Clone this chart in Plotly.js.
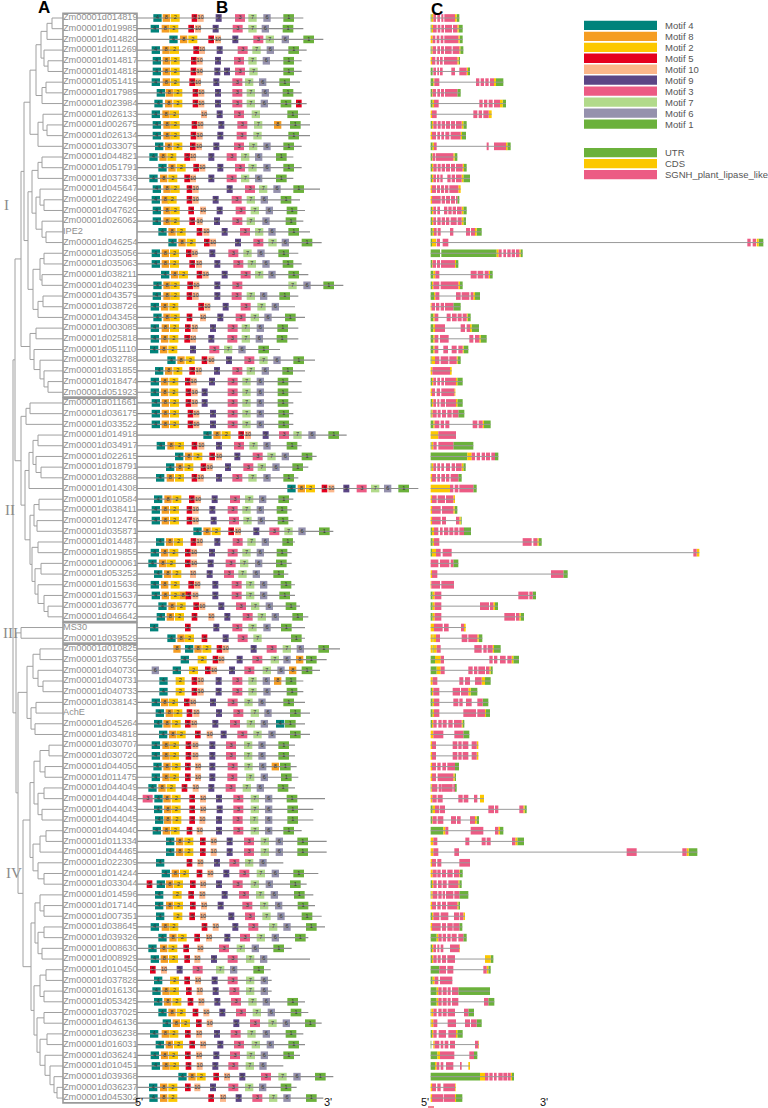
<!DOCTYPE html>
<html><head><meta charset="utf-8">
<script src="https://cdn.plot.ly/plotly-3.0.1.min.js"></script>
<style>html,body{margin:0;padding:0;background:#fff}#chart{width:768px;height:1108px}</style>
</head><body><div id="chart"></div>
<script>
// ---------------- DATA ----------------
const geneNames = ["Zm00001d014819","Zm00001d019985","Zm00001d014820","Zm00001d011269","Zm00001d014817","Zm00001d014818","Zm00001d051419","Zm00001d017989","Zm00001d023984","Zm00001d026133","Zm00001d002675","Zm00001d026134","Zm00001d033079","Zm00001d044821","Zm00001d051791","Zm00001d037336","Zm00001d045647","Zm00001d022496","Zm00001d047620","Zm00001d026062","IPE2","Zm00001d046254","Zm00001d035056","Zm00001d035063","Zm00001d038211","Zm00001d040239","Zm00001d043579","Zm00001d038726","Zm00001d043458","Zm00001d003085","Zm00001d025818","Zm00001d051110","Zm00001d032788","Zm00001d031855","Zm00001d018474","Zm00001d051923","Zm00001d011661","Zm00001d036175","Zm00001d033522","Zm00001d014918","Zm00001d034917","Zm00001d022615","Zm00001d018791","Zm00001d032888","Zm00001d014308","Zm00001d010584","Zm00001d038411","Zm00001d012476","Zm00001d035871","Zm00001d014487","Zm00001d019855","Zm00001d000061","Zm00001d053252","Zm00001d015636","Zm00001d015637","Zm00001d036770","Zm00001d046642","MS30","Zm00001d039529","Zm00001d010825","Zm00001d037556","Zm00001d040730","Zm00001d040731","Zm00001d040733","Zm00001d038143","AchE","Zm00001d045264","Zm00001d034818","Zm00001d030707","Zm00001d030720","Zm00001d044050","Zm00001d011475","Zm00001d044049","Zm00001d044048","Zm00001d044043","Zm00001d044045","Zm00001d044040","Zm00001d011334","Zm00001d044465","Zm00001d022309","Zm00001d014244","Zm00001d033044","Zm00001d014596","Zm00001d017140","Zm00001d007351","Zm00001d038645","Zm00001d039326","Zm00001d008630","Zm00001d008929","Zm00001d010450","Zm00001d037828","Zm00001d016130","Zm00001d053425","Zm00001d037025","Zm00001d046136","Zm00001d036238","Zm00001d016031","Zm00001d036241","Zm00001d010451","Zm00001d039368","Zm00001d036237","Zm00001d045302"];

const groupLabels = ["I","II","III","IV"];
const groupStart = [1,37,58,60];
const groupEnd = [36,57,59,102];

const motifOrder = [4,8,2,5,10,9,3,7,6,1];
const motifLength = [25,22,27,17,18,18,30,25,22,32];   // same order as motifOrder
const motifColors = ["#00837b","#f59d22","#fcc800","#e5001e","#fbb68a","#5b4585","#ec5b84","#b2da8b","#9591ad","#6bb13b"];

const structLabels = ["UTR","CDS","SGNH_plant_lipase_like"];
const structCodes = ["U","C","S"];
const structColors = ["#6bb13b","#fcc800","#ec5b84"];

const proteinStart = 411;
const proteinEnd = [910,910,970,920,905,905,900,905,920,930,930,930,905,880,905,880,960,900,915,910,930,965,895,905,925,1030,895,885,915,895,895,840,945,915,905,905,880,880,880,1040,905,950,925,895,1255,880,875,880,1000,885,875,875,865,885,885,900,925,915,915,1020,980,960,910,910,915,930,915,930,885,885,890,895,885,975,940,940,905,980,980,850,955,920,940,945,965,975,925,875,930,812,815,815,915,925,965,910,915,900,850,1000,890,970];

// motif id, start (pairs)
const motifSites = [
[4,460,8,488,2,512,5,575,10,593,9,647,3,705,7,745,6,790,1,850],
[4,452,8,485,2,508,5,565,10,585,9,638,3,698,7,745,6,785,1,848],
[4,508,8,540,2,565,5,625,10,645,9,697,3,760,7,797,6,845,1,910],
[4,455,8,487,2,510,5,580,10,597,9,650,3,713,7,757,6,800,1,865],
[4,458,8,488,2,512,5,573,10,590,9,645,3,702,7,745,6,788,1,850],
[4,458,8,488,2,512,5,572,10,590,9,643,9,672,3,705,7,748,1,850],
[4,455,8,488,2,512,5,568,10,585,9,640,3,697,7,735,6,777,1,838],
[4,470,8,497,2,520,5,578,10,595,9,645,3,697,7,740,6,785,1,848],
[4,463,8,495,2,520,5,578,10,595,9,645,3,697,7,740,6,782,1,842,5,888],
[4,455,8,487,2,510,10,603,9,650,3,702,7,755,1,862],
[4,458,8,490,2,512,5,575,10,592,9,655,3,712,7,762,8,822,1,870],
[4,458,8,490,2,512,5,572,10,590,9,652,3,710,7,760,1,865],
[4,465,8,495,2,520,5,570,10,588,9,640,3,702,7,747,6,790,1,850],
[4,448,8,478,2,502,5,553,10,570,9,625,3,680,7,723,6,765,1,828],
[4,475,8,505,2,530,5,580,10,598,9,652,3,705,7,745,6,790,1,850],
[4,448,8,480,2,505,5,553,10,570,9,625,3,680,7,723,6,765,1,828],
[4,458,8,490,2,512,5,560,10,578,9,680,3,735,7,777,6,820,1,880],
[4,455,8,485,2,503,5,560,10,578,9,638,3,695,7,740,6,782,1,842],
[4,458,8,490,2,512,5,565,10,600,9,650,3,707,7,752,6,797,1,860],
[4,458,8,490,2,512,5,568,10,590,9,642,3,697,7,740,6,787,1,857],
[4,475,8,505,2,530,5,590,10,610,9,665,3,720,7,765,6,805,1,865],
[4,505,8,535,2,560,5,612,10,630,9,705,3,760,7,805,6,845,1,905],
[4,455,8,485,2,510,5,558,10,575,9,628,3,685,7,730,6,772,1,835],
[4,455,8,485,2,510,5,568,10,588,9,643,3,700,7,743,6,787,1,848],
[4,483,8,513,2,537,5,590,10,608,9,665,3,722,7,765,6,805,1,865],
[4,460,8,490,2,512,5,562,10,580,9,643,3,697,7,865,6,910,1,970],
[4,458,8,490,2,512,5,560,10,578,9,643,3,695,7,740,6,780,1,838],
[4,452,8,483,2,508,5,595,10,613,9,668,3,722,7,772,6,815],
[4,460,8,490,2,512,5,560,10,600,9,652,3,707,7,752,6,793,1,855],
[4,452,8,485,2,510,5,555,10,575,9,630,3,683,7,725,6,770,1,832],
[4,452,8,483,2,508,5,553,10,570,9,625,3,682,7,725,6,767,1,830],
[4,450,8,480,2,505,9,570,3,628,7,672,6,715,1,775],
[4,502,8,532,2,557,5,605,10,625,9,678,3,733,7,778,6,820,1,880],
[4,465,8,495,2,520,5,568,10,587,9,642,3,697,7,740,6,785,1,847],
[4,452,8,483,2,508,5,555,10,572,9,627,3,683,7,727,6,770,1,833],
[4,452,8,483,2,508,5,557,10,575,9,605,3,683,7,727,6,770,1,833],
[4,455,8,485,2,510,5,557,10,575,9,605,3,683,7,727,6,770,1,833],
[4,455,8,485,2,510,5,563,10,580,9,630,3,683,7,727,6,770,1,835],
[4,455,8,485,2,510,5,563,10,580,9,630,3,683,7,727,6,770,1,835],
[4,610,8,640,2,665,5,715,10,735,9,788,3,837,7,880,6,925,1,985],
[4,470,8,502,2,525,5,575,10,595,9,648,3,702,7,748,6,790,1,860],
[4,525,8,555,2,580,5,628,10,648,9,703,3,758,7,802,6,845,1,905],
[4,498,8,528,2,553,5,602,10,620,9,675,3,730,7,773,6,817,1,877],
[4,468,8,500,2,525,5,575,10,593,9,648,3,697,7,745,6,790,1,850],
[4,862,8,893,2,918,5,965,10,985,9,1030,3,1070,7,1113,6,1152,1,1195],
[4,462,8,493,2,517,5,567,10,585,9,635,3,690,7,735,6,777,1,835],
[4,455,8,485,2,510,5,560,10,578,9,628,3,683,7,727,6,770,1,830],
[4,455,8,485,2,510,5,560,10,578,9,632,3,687,7,730,6,773,1,833],
[4,580,8,610,2,635,5,685,10,705,9,760,3,808,7,853,6,895,1,957],
[4,468,8,498,2,522,5,572,10,590,9,643,3,698,7,742,6,785,1,847],
[4,452,8,483,2,508,5,555,10,573,9,627,3,683,7,727,6,770,1,830],
[4,445,8,477,2,500,5,555,10,573,9,623,3,677,7,720,6,765,1,828],
[4,462,8,492,2,517,10,570,9,620,3,672,7,715,6,758,1,820],
[4,452,8,483,2,512,5,565,10,583,9,637,3,695,7,738,6,780,1,842],
[4,455,8,485,2,512,8,538,5,557,10,577,9,637,3,695,7,738,6,780,1,838],
[4,475,8,505,2,530,5,580,10,598,9,655,3,708,7,753,6,797,1,857],
[4,470,8,500,2,525,5,575,10,625,9,673,3,728,7,773,6,815,1,877],
[4,450,5,555,9,640,3,697,7,745,6,790,1,843],
[4,502,8,532,2,555,5,605,9,668,3,713,7,760,1,873],
[8,520,4,555,8,583,2,607,5,650,10,668,9,752,3,800,7,848,6,890,1,955],
[4,542,2,593,5,638,10,655,9,710,3,757,7,812,6,850,8,888,1,918],
[6,455,4,518,2,567,5,615,10,633,9,687,3,733,7,788,6,832,8,867,1,905],
[4,478,2,527,5,575,10,593,9,647,3,697,7,745,6,788,8,822,1,857],
[4,478,2,527,5,575,10,593,9,647,3,697,7,745,6,790,1,860],
[4,455,8,483,2,507,5,552,10,570,9,630,3,683,7,733,6,775,1,850],
[4,467,8,497,2,520,5,560,10,580,9,648,3,700,7,752,6,793,1,870],
[4,462,8,490,2,515,5,555,10,573,9,637,3,690,7,740,6,782,4,828,1,855],
[4,477,8,507,2,530,5,585,10,620,9,662,3,712,7,760,6,805,1,870],
[4,455,8,487,2,510,5,557,10,577,9,628,3,678,7,732,6,775,1,835],
[4,455,8,487,2,510,5,557,10,577,9,628,3,678,7,732,6,775,1,835],
[4,460,8,490,2,515,5,555,10,585,9,628,3,683,7,733,6,777,8,815,1,840],
[4,455,8,487,2,510,5,555,10,585,9,628,3,682,7,738,6,782,1,843],
[4,445,8,475,2,500,5,545,10,578,9,625,3,677,7,728,6,770,1,833],
[3,428,4,463,8,490,2,515,5,568,10,600,9,648,3,700,7,752,6,795,1,860],
[4,462,8,492,2,515,5,568,10,600,9,650,3,700,7,752,6,795,1,862],
[4,465,8,492,2,517,5,568,10,598,9,648,3,698,7,750,6,795,1,862],
[4,458,8,488,2,512,5,560,10,590,9,648,3,700,7,752,6,795,1,850],
[4,498,8,528,2,553,5,600,10,632,9,680,3,732,7,782,6,827,1,892],
[4,498,8,528,2,553,5,600,10,632,9,680,3,732,7,782,6,827,1,892],
[4,468,5,560,10,592,9,642,3,688,7,735,6,778],
[4,485,8,515,2,540,5,590,10,622,9,670,3,718,7,770,6,815,1,880],
[5,440,4,470,8,498,2,522,5,570,10,600,9,648,3,698,7,752,6,797,1,870],
[4,465,2,518,5,565,10,598,9,665,3,717,7,768,6,812,1,882],
[4,465,8,498,2,522,5,570,10,603,9,653,3,727,7,780,6,825,1,893],
[4,468,2,520,5,568,10,600,9,685,3,735,7,787,6,832,1,905],
[4,452,8,485,2,508,5,605,10,638,9,697,3,745,7,807,6,850,1,918],
[4,475,8,508,2,533,5,583,10,618,9,673,3,720,7,770,6,815,1,885],
[4,445,8,480,2,505,5,550,10,592,3,657,7,710,6,755,1,820],
[4,452,8,482,2,507,5,553,10,583,9,633,3,683,7,738,6,780],
[5,450,10,483,9,530,3,578,7,648,6,690,1,760],
[4,462,2,510,5,553,10,585,9,635,3,683,7,738,6,782],
[4,457,8,487,2,510,5,558,10,590,9,638,3,688,7,738,6,782],
[4,462,8,492,2,517,5,563,10,595,9,643,3,693,7,745,6,788,1,862],
[4,475,8,505,2,530,5,578,10,610,9,658,3,708,7,758,6,803,1,872],
[4,488,8,518,2,543,5,588,10,620,9,700,3,750,7,805,6,848,1,915],
[4,450,8,485,2,508,5,555,10,588,9,642,3,692,7,742,6,788,1,857],
[4,467,8,497,2,522,5,568,10,600,9,652,3,702,7,755,6,800,1,865],
[4,452,8,483,2,507,5,555,10,588,9,640,3,690,7,740,6,782,1,850],
[4,455,8,487,2,510,5,557,10,590,9,637,3,685,7,737,6,778],
[4,535,8,565,2,590,5,640,10,672,9,718,3,783,7,835,6,880,1,945],
[4,447,8,480,2,505,5,555,10,583,9,630,3,685,7,735,6,777,1,842],
[4,448,8,480,2,505,5,625,10,660,9,707,3,757,7,807,6,850,1,918]
];

// gene structure segments: type, start, end (triples)
const geneSegments = [
["U",32,35,"C",35,40,"S",40,48,"S",52,60,"S",64,70,"S",73,105,"C",105,110,"U",110,118],
["U",32,35,"C",35,39,"S",39,50,"S",53,61,"S",64,72,"S",75,96,"S",99,112,"C",112,116,"U",116,128],
["C",32,38,"S",38,46,"S",50,58,"S",62,70,"S",73,115,"C",115,119,"U",119,128],
["U",32,35,"C",35,38,"S",38,48,"S",52,60,"S",63,72,"S",75,95,"S",98,118,"C",118,121,"U",121,130],
["C",32,36,"S",36,46,"S",50,57,"S",60,68,"S",72,112,"C",112,116,"U",116,120],
["U",32,38,"S",40,48,"S",52,57,"S",60,68,"S",94,105,"S",118,140,"C",140,144,"U",144,150],
["U",32,40,"C",40,43,"S",43,58,"S",168,178,"S",182,192,"S",196,206,"S",210,222,"C",222,228,"U",228,250],
["U",32,36,"C",36,38,"S",38,48,"S",52,60,"S",63,72,"S",75,112,"U",112,122],
["U",32,38,"C",38,42,"S",42,56,"S",178,188,"S",192,202,"S",206,218,"S",222,240,"C",240,248,"U",248,258],
["C",32,36,"S",36,50,"S",160,172,"S",176,186,"S",190,206,"C",206,215],
["U",32,36,"C",36,40,"S",40,50,"S",53,62,"S",65,75,"S",78,90,"S",93,105,"S",108,125,"C",125,130,"U",130,140],
["C",32,36,"S",36,48,"S",52,60,"S",64,72,"S",76,88,"S",92,122,"C",122,126,"U",126,138],
["U",32,38,"C",38,42,"S",42,50,"S",200,206,"S",222,258,"C",258,262,"U",262,272],
["U",32,36,"C",36,38,"S",38,46,"S",48,100,"C",100,104,"U",104,112],
["U",32,36,"C",36,40,"S",40,50,"S",53,62,"S",65,75,"S",78,90,"S",93,105,"S",108,128,"C",128,132,"U",132,140],
["U",32,36,"C",36,40,"S",40,48,"S",51,58,"S",61,68,"S",82,92,"S",95,105,"S",108,125,"C",125,130,"U",130,150],
["C",32,36,"S",36,48,"S",51,60,"S",63,72,"S",75,85,"S",88,115,"C",115,122],
["C",32,36,"S",36,62,"S",65,75,"S",78,90,"S",93,105,"S",108,112,"U",112,118],
["U",32,36,"C",36,40,"S",40,48,"S",52,60,"S",72,82,"S",85,95,"S",98,108,"S",111,125,"C",125,130,"U",130,140],
["U",32,36,"C",36,40,"S",40,48,"S",52,62,"S",65,75,"S",78,88,"S",92,110,"S",113,125,"C",125,130,"U",130,138],
["U",32,38,"C",38,42,"S",42,50,"S",53,62,"S",90,100,"S",138,150,"S",153,165,"C",165,170,"U",170,185],
["U",32,36,"C",36,48,"S",50,60,"S",68,85,"S",982,992,"S",998,1008,"C",1010,1016,"U",1016,1030],
["U",32,60,"U",64,230,"C",230,236,"S",236,245,"S",250,258,"S",262,272,"S",275,285,"S",288,298,"C",298,302,"U",302,308],
["U",32,36,"C",36,38,"S",38,48,"S",51,60,"S",63,105,"C",105,108,"U",108,115],
["U",32,40,"C",40,46,"S",46,58,"S",152,170,"S",173,190,"S",194,206,"C",206,210,"U",210,218],
["U",32,36,"C",36,40,"S",40,58,"S",62,115,"C",115,120,"U",120,128],
["U",32,42,"C",42,46,"S",46,58,"S",108,122,"S",125,148,"S",152,160,"C",160,165,"U",165,180],
["C",32,35,"S",35,45,"S",48,58,"S",62,72,"S",75,100,"U",100,122],
["U",32,40,"C",40,44,"S",44,55,"S",80,92,"S",96,110,"S",113,125,"S",128,140,"C",140,143,"U",143,152],
["U",32,40,"C",40,45,"S",45,75,"S",122,135,"S",140,150,"C",150,155,"U",155,177],
["U",32,40,"C",40,44,"S",44,55,"S",60,86,"S",148,160,"S",165,178,"C",178,182,"U",182,200],
["U",32,40,"C",40,44,"S",44,55,"S",70,84,"S",95,110,"S",115,128,"C",128,131,"U",131,145],
["U",32,35,"C",35,45,"S",45,58,"S",62,85,"S",88,110,"C",110,113,"U",113,122],
["C",32,37,"S",37,90,"C",90,95],
["U",32,36,"C",36,40,"S",40,48,"S",52,60,"S",64,72,"S",75,108,"C",108,112,"U",112,128],
["C",32,36,"S",36,45,"S",50,60,"S",64,103,"C",103,106],
["U",32,36,"C",36,40,"S",40,48,"S",52,58,"S",62,75,"S",78,108,"C",108,112,"U",112,128],
["U",32,35,"C",35,38,"S",38,50,"S",53,62,"S",66,78,"S",82,95,"S",98,115,"U",115,133],
["U",32,40,"C",40,44,"S",44,58,"S",62,72,"S",76,88,"S",158,172,"S",176,188,"C",188,192,"U",192,212],
["C",32,55,"S",55,108],
["U",32,35,"C",35,40,"S",40,50,"S",55,100,"U",100,160],
["U",32,142,"C",142,155,"S",155,165,"S",170,180,"S",185,195,"S",198,210,"S",214,225,"U",225,235],
["U",32,35,"C",35,40,"S",40,48,"S",52,60,"S",64,72,"S",78,90,"S",95,105,"S",108,125,"C",125,130,"U",130,137],
["C",32,36,"S",36,48,"S",52,60,"S",64,75,"S",78,88,"S",92,115,"U",115,125],
["C",32,90,"S",90,100,"S",104,115,"S",118,160,"U",160,170],
["C",32,36,"S",36,50,"S",53,75,"S",78,100,"C",100,105],
["C",32,36,"S",36,62,"S",66,100,"C",100,104,"U",104,112],
["C",32,36,"S",36,62,"S",66,78,"S",108,118,"C",118,122,"U",122,125],
["U",32,36,"C",36,42,"S",42,55,"S",60,68,"S",72,85,"S",88,100,"S",103,115,"S",118,132,"U",132,153],
["U",32,38,"C",38,42,"S",42,58,"S",308,335,"S",340,352,"C",352,356,"U",356,365],
["U",32,36,"C",36,48,"S",48,62,"S",68,95,"S",820,830,"C",830,838],
["S",32,55,"S",60,88,"S",92,100,"U",100,115],
["C",32,36,"S",36,52,"S",393,430,"U",430,443],
["C",32,34,"S",34,60,"S",64,102],
["U",32,38,"C",38,44,"S",44,64,"S",295,325,"S",328,338,"U",338,348],
["U",32,38,"C",38,44,"S",44,64,"S",180,207,"S",210,220,"C",220,225,"U",225,234],
["U",32,38,"C",38,44,"S",44,64,"S",253,285,"S",288,298,"C",298,302,"U",302,312],
["C",32,42,"S",42,68,"S",72,86,"S",123,132,"C",132,137],
["C",32,38,"U",38,40,"C",40,48,"S",48,60,"S",125,142,"S",145,172,"C",172,176,"U",176,187],
["C",32,38,"U",38,41,"C",41,50,"S",50,62,"S",163,185,"S",190,200,"S",203,218,"C",218,222,"U",222,242],
["U",32,45,"C",45,62,"S",62,72,"S",208,218,"S",222,232,"S",240,257,"S",262,275,"C",275,280,"U",280,297],
["U",32,50,"C",50,62,"S",62,74,"S",145,158,"S",162,172,"S",175,195,"S",198,208,"C",208,212,"U",212,218],
["C",32,38,"S",38,52,"S",118,130,"S",135,150,"S",165,185,"C",185,195,"U",195,212],
["U",32,36,"C",36,40,"S",40,58,"S",98,120,"S",123,145,"C",145,152,"U",152,172],
["U",32,38,"C",38,42,"S",42,58,"S",100,115,"S",118,128,"S",138,155,"S",172,188,"U",188,205],
["U",32,38,"C",38,42,"S",42,58,"S",130,168,"S",172,195,"C",195,198,"U",198,210],
["U",32,36,"C",36,40,"S",40,50,"S",55,65,"S",68,80,"S",85,98,"S",102,125,"C",125,128,"U",128,133],
["C",32,40,"S",40,70,"S",103,130,"U",130,148],
["C",32,36,"S",36,48,"S",98,112,"S",115,125,"S",128,145,"S",155,170,"C",170,175],
["C",32,36,"S",36,48,"S",98,112,"S",115,125,"S",128,145,"S",155,170,"C",170,175],
["C",32,36,"S",36,48,"S",52,62,"S",67,78,"S",82,105,"U",105,117],
["C",32,36,"S",36,48,"S",53,100,"C",100,104,"U",104,108],
["U",32,34,"C",34,36,"S",36,52,"S",56,65,"S",66,98,"S",100,105,"U",105,110],
["C",32,37,"S",37,50,"S",53,68,"S",115,128,"S",131,145,"S",162,172,"C",180,192],
["U",32,38,"C",38,45,"S",45,58,"S",60,75,"S",205,222,"S",225,235,"S",298,310,"C",310,314,"U",314,320],
["U",32,36,"C",36,38,"S",38,50,"S",53,70,"S",93,108,"S",111,122,"S",150,165,"C",165,170,"U",170,177],
["U",32,70,"C",70,76,"S",76,85,"S",152,190,"S",225,235,"C",235,240,"U",240,250],
["C",32,40,"S",40,52,"S",136,148,"S",185,197,"S",200,212,"S",276,286,"C",286,292,"U",292,312],
["C",32,40,"S",40,55,"S",103,117,"S",620,650,"S",787,800,"C",800,806,"U",806,832],
["C",32,36,"S",36,48,"S",52,64,"S",118,150],
["C",32,38,"S",38,50,"S",52,62,"S",66,78,"S",82,98,"S",102,118,"C",118,120,"U",120,128],
["U",32,36,"C",36,40,"S",40,50,"S",54,65,"S",68,80,"S",85,115,"C",115,118,"U",118,125],
["U",32,34,"C",34,38,"S",38,52,"S",55,65,"S",68,75,"S",78,100,"S",103,118,"U",118,145],
["C",32,36,"S",36,48,"S",52,62,"S",66,78,"S",82,112,"C",112,115,"U",115,120],
["U",32,36,"C",36,40,"S",40,58,"S",62,85,"S",102,118,"S",120,130,"C",130,135],
["C",32,36,"S",36,62,"S",66,78,"S",82,98,"S",100,118,"U",118,127],
["U",32,50,"C",50,55,"S",55,65,"S",68,78,"S",82,92,"S",95,110,"S",115,130,"U",130,140],
["U",32,36,"C",36,40,"S",40,48,"S",52,58,"S",62,70,"S",90,118,"C",118,120],
["U",32,36,"C",36,40,"S",40,50,"S",53,62,"S",66,78,"S",82,105,"C",195,212,"U",212,220],
["U",32,58,"S",58,78,"S",82,100,"S",190,200,"C",200,205,"U",205,212],
["U",32,38,"C",38,44,"S",44,55,"S",60,97],
["U",32,50,"C",50,55,"S",55,65,"S",68,80,"S",83,92,"S",96,115,"U",115,210],
["U",32,50,"C",50,55,"S",55,65,"S",68,80,"S",83,92,"S",96,115,"S",192,205,"U",205,223],
["U",32,34,"C",34,40,"S",40,50,"S",55,65,"S",68,80,"S",83,105,"S",132,145,"U",145,162],
["U",32,34,"C",34,40,"S",40,52,"S",83,108,"S",135,150,"S",153,170,"U",170,185],
["U",32,36,"C",36,40,"S",40,50,"S",56,78,"S",85,108,"C",108,112,"U",112,128],
["U",32,34,"C",40,44,"S",44,58,"S",62,70,"S",74,85,"S",90,105,"S",165,175,"C",175,177],
["U",32,52,"C",52,60,"S",60,103,"S",148,162,"U",162,172],
["U",32,45,"C",45,50,"S",50,58,"S",62,70,"S",78,100,"S",120,125,"C",145,150],
["U",32,180,"C",180,195,"S",195,205,"S",208,218,"S",222,230,"S",235,248,"S",250,262,"S",264,272,"C",272,276,"U",276,282],
["C",32,36,"S",36,48,"S",52,62,"S",70,105,"C",105,107],
["C",32,36,"S",36,70,"S",72,105,"C",105,108,"U",108,127]
];

// Phylogeny: [node depth, child, child, ...]; leaves are row numbers
const cladeI = [21,
  [24,
    [30,[36,[41,[47,[52,1,2],3],[44,4,[48,5,6]]],[42,[46,7,8],9]],[38,[43,10,[47,11,12]],13]],
    [28,
      [32,[38,[42,14,15],16],[36,[40,17,[44,18,19]],[42,20,[46,21,22]]]],
      [33,[40,[44,23,24],[42,25,26]],[38,[43,27,28],29]]]],
  [30,[36,30,31],[34,32,[40,33,[44,34,[48,35,36]]]]]];
const cladeII = [21,
  [26,[30,37,38],39],
  [25,
    [29,[33,[38,40,41],[36,42,[41,43,44]]],45],
    [30,[34,[39,46,47],[37,48,49]],[32,[38,50,51],[35,[41,52,53],[38,54,[44,55,[48,56,57]]]]]]]];
const cladeIII = [21,58,59];
const cladeIV = [18,
  [27,[33,[40,60,61],[38,62,[43,63,64]]],[31,[36,65,66],[35,67,68]]],
  [23,
    [30,[34,[40,[49,69,70],[45,71,72]],[38,[44,73,74],[42,75,76]]],[33,[40,[46,77,78],79],[38,80,[44,81,82]]]],
    [31,[35,[40,83,[44,84,85]],[38,[44,86,87],[42,88,89]]],
        [34,[40,[46,90,91],[44,92,93]],[37,[44,94,95],[40,[47,96,97],[45,98,[50,99,[54,100,[57,101,102]]]]]]]]]];
const tree = [13,[15,cladeI,cladeII],[16,cladeIII,cladeIV]];

// ---------------- LAYOUT HELPERS ----------------
const W = 768, H = 1108;
const LEAF_X = 63, BOX_R = 137;
const rows = geneNames.map((_, i) => i + 1);
const py = p => 1 - p / H;

const traces = [];

// tree
const tx = [], ty = [];
function walk(n) {
  if (typeof n === 'number') return {x: LEAF_X, y: n};
  const [d, ...kids] = n;
  const ks = kids.map(walk);
  const y0 = ks[0].y, y1 = ks[ks.length - 1].y;
  tx.push(d, d, null); ty.push(y0, y1, null);
  ks.forEach(k => { tx.push(d, k.x, null); ty.push(k.y, k.y, null); });
  return {x: d, y: (y0 + y1) / 2};
}
walk(tree);
traces.push({type:'scatter', mode:'lines', x:tx, y:ty, xaxis:'x', yaxis:'y',
  line:{color:'#a0a0a0', width:1}, hoverinfo:'skip'});

// gene names
traces.push({type:'scatter', mode:'text', x:rows.map(() => LEAF_X), y:rows, text:geneNames,
  textposition:'middle right', xaxis:'x', yaxis:'y', cliponaxis:false,
  textfont:{family:'Liberation Sans, Arial, sans-serif', size:9.2, color:'#8e8e8e'}, hoverinfo:'skip'});

// motif backbones
const bx = [], by = [];
rows.forEach((r, i) => { bx.push(proteinStart, proteinEnd[i], null); by.push(r, r, null); });
traces.push({type:'scatter', mode:'lines', x:bx, y:by, xaxis:'x2', yaxis:'y',
  line:{color:'#8c8c8c', width:1.2}, hoverinfo:'skip'});

// motif boxes
const txX = [], txY = [], txT = [];
motifOrder.forEach((m, k) => {
  const ys = [], base = [], len = [];
  motifSites.forEach((arr, i) => {
    for (let j = 0; j < arr.length; j += 2) {
      if (arr[j] === m) {
        ys.push(i + 1); base.push(arr[j + 1]); len.push(motifLength[k]);
        txX.push(arr[j + 1] + motifLength[k] / 2); txY.push(i + 1); txT.push(String(m));
      }
    }
  });
  traces.push({type:'bar', orientation:'h', xaxis:'x2', yaxis:'y', y:ys, x:len, base:base,
    width:0.72, marker:{color:motifColors[k], line:{width:0}}, hoverinfo:'skip'});
});
traces.push({type:'scatter', mode:'text', x:txX, y:txY, text:txT, xaxis:'x2', yaxis:'y',
  textfont:{family:'Liberation Sans, Arial, sans-serif', size:5.5, color:'#333'}, hoverinfo:'skip'});

// gene structure: introns
const ix = [], iy = [];
geneSegments.forEach((seg, i) => {
  let lo = Infinity, hi = -Infinity;
  for (let j = 0; j < seg.length; j += 3) { lo = Math.min(lo, seg[j + 1]); hi = Math.max(hi, seg[j + 2]); }
  ix.push(lo, hi, null); iy.push(i + 1, i + 1, null);
});
traces.push({type:'scatter', mode:'lines', x:ix, y:iy, xaxis:'x3', yaxis:'y',
  line:{color:'#9a9a9a', width:1}, hoverinfo:'skip'});
structCodes.forEach((c, k) => {
  const ys = [], base = [], len = [];
  geneSegments.forEach((seg, i) => {
    for (let j = 0; j < seg.length; j += 3) {
      if (seg[j] === c) { ys.push(i + 1); base.push(seg[j + 1]); len.push(seg[j + 2] - seg[j + 1]); }
    }
  });
  traces.push({type:'bar', orientation:'h', xaxis:'x3', yaxis:'y', y:ys, x:len, base:base,
    width:0.72, marker:{color:structColors[k], line:{width:0}}, hoverinfo:'skip'});
});

// ---------------- SHAPES & ANNOTATIONS ----------------
const shapes = [], annotations = [];
groupStart.forEach((s, g) => {
  shapes.push({type:'rect', xref:'x', yref:'y', x0:LEAF_X, x1:BOX_R, y0:s - 0.45, y1:groupEnd[g] + 0.45,
    line:{color:'#9a9a9a', width:1.6}, fillcolor:'rgba(0,0,0,0)', layer:'above'});
  annotations.push({xref:'x', yref:'y', x: g === 3 ? 14 : (g === 0 ? 6 : 10), y:(s + groupEnd[g]) / 2,
    yanchor:'middle', text:groupLabels[g], showarrow:false,
    font:{family:'Liberation Serif, DejaVu Serif, serif', size:15, color:'#8a8a8a'}});
});

// panel letters
[['A',44,8],['B',222,8],['C',437,9]].forEach(([t, x, y]) => annotations.push({xref:'x', yref:'paper', x:x, y:py(y),
  xanchor:'center', yanchor:'middle',
  text:'<b>' + t + '</b>', showarrow:false, font:{family:'Liberation Sans, Arial, sans-serif', size:17, color:'#000'}}));

// 5' / 3' labels
[["5'",139,1102],["3'",328,1102],["5'",425,1102],["3'",544,1102]].forEach(([t, x, y]) => annotations.push({xref:'x', yref:'paper',
  x:x, y:py(y), xanchor:'center', yanchor:'middle', text:t, showarrow:false,
  font:{family:'Liberation Sans, Arial, sans-serif', size:11, color:'#111'}}));
shapes.push({type:'line', xref:'x', yref:'paper', x0:428, x1:434, y0:py(1107), y1:py(1107), line:{color:'#e5001e', width:1}});

// legend
const legX0 = 584, legX1 = 657, legTxt = 663;
const legItems = motifOrder.map((m, k) => ({label:'Motif ' + m, color:motifColors[k], top:20.7 + k * 10.97}))
  .concat(structLabels.map((l, k) => ({label:l, color:structColors[k], top:148 + k * 11})));
legItems.forEach(it => {
  shapes.push({type:'rect', xref:'x', yref:'paper', x0:legX0, x1:legX1, y0:py(it.top), y1:py(it.top + 9.3),
    line:{width:0}, fillcolor:it.color});
  annotations.push({xref:'x', yref:'paper', x:legTxt, y:py(it.top + 4.7), xanchor:'left', yanchor:'middle', text:it.label,
    showarrow:false, font:{family:'Liberation Sans, Arial, sans-serif', size:9.5, color:'#555'}});
});

const axBase = {visible:false, showgrid:false, zeroline:false, fixedrange:true};
const layout = {
  width:W, height:H, margin:{l:0, r:0, t:0, b:0}, paper_bgcolor:'#fff', plot_bgcolor:'#fff',
  showlegend:false, barmode:'overlay',
  xaxis:Object.assign({range:[0, W], domain:[0, 1]}, axBase),
  xaxis2:Object.assign({range:[0, 3 * W], overlaying:'x', anchor:'y'}, axBase),
  xaxis3:Object.assign({range:[-1260, 1044], overlaying:'x', anchor:'y'}, axBase),
  yaxis:Object.assign({range:[102.93, -0.683], domain:[0, 1]}, axBase),
  shapes:shapes, annotations:annotations
};
Plotly.newPlot('chart', traces, layout, {staticPlot:true, displayModeBar:false});
</script></body></html>
